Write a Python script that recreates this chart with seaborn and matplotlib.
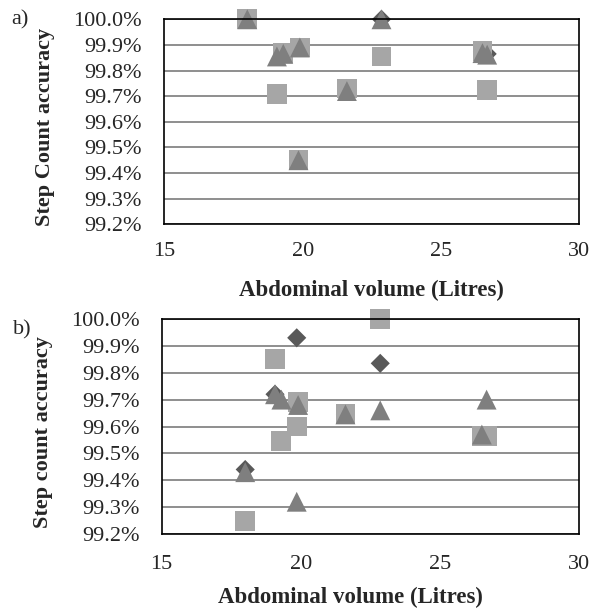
import matplotlib
matplotlib.use("Agg")
import matplotlib.pyplot as plt
import numpy as np
import pandas as pd
import seaborn as sns

# abdominal volume (litres) of each subject
volume = [18.0, 19.07, 19.3, 19.85, 19.9, 21.6, 22.85, 26.5, 26.67]

# a) step count accuracy (%)
a_diamond = [100.0, 99.71, 99.87, 99.45, 99.89, 99.73, 100.0, 99.875, 99.865]
a_square = [100.0, 99.71, 99.87, 99.45, 99.89, 99.73, 99.855, 99.875, 99.725]
a_triangle = [100.0, 99.855, 99.865, 99.45, 99.89, 99.72, 100.0, 99.868, 99.862]

# b) step count accuracy (%)
b_diamond = [99.44, 99.72, 99.545, 99.93, 99.69, 99.645, 99.835, 99.565, 99.565]
b_square = [99.25, 99.85, 99.545, 99.60, 99.69, 99.645, 100.0, 99.565, 99.565]
b_triangle = [99.43, 99.72, 99.70, 99.32, 99.68, 99.645, 99.66, 99.57, 99.70]

y_ticks = [99.2, 99.3, 99.4, 99.5, 99.6, 99.7, 99.8, 99.9, 100.0]
x_ticks = [15, 20, 25, 30]

sns.set_style("white")
plt.rcParams['font.family'] = ['Liberation Serif', 'DejaVu Serif']

markers = {"diamond": "D", "square": "s", "triangle": "^"}
palette = {"diamond": "#595959", "square": "#a6a6a6", "triangle": "#7f7f7f"}
sizes = {"diamond": 95, "square": 205, "triangle": 205}

FS = 16


def make_df(d, s, t):
    # order matters: diamonds drawn first, triangles on top
    rows = []
    for name, vals in (("diamond", d), ("square", s), ("triangle", t)):
        for x, y in zip(volume, vals):
            rows.append({"volume": x, "accuracy": y, "series": name})
    return pd.DataFrame(rows)


def draw_panel(ax, df, ylabel, xl_pos, yl_pos, xpad):
    sns.scatterplot(data=df, x="volume", y="accuracy", hue="series", style="series",
                    size="series", markers=markers, palette=palette, sizes=sizes,
                    linewidth=0, alpha=1, legend=False, ax=ax, clip_on=False)
    ax.set_xlim(15, 30)
    ax.set_ylim(99.2, 100.0)
    ax.set_xticks(x_ticks)
    ax.set_yticks(y_ticks)
    ax.set_yticklabels([f"{v:.1f}%" for v in y_ticks])
    ax.yaxis.grid(True, color="#868686", linewidth=1.3)
    ax.set_axisbelow(True)
    for sp in ax.spines.values():
        sp.set_color("black")
        sp.set_linewidth(1.2)
    ax.tick_params(axis="y", length=0, pad=16, labelsize=FS)
    ax.tick_params(axis="x", direction="in", length=4.5, width=1.2, pad=xpad, labelsize=FS)
    ax.set_xlabel("Abdominal volume (Litres)", fontsize=FS + 0.5, fontweight="bold")
    ax.set_ylabel(ylabel, fontsize=FS, fontweight="bold")
    ax.xaxis.set_label_coords(*xl_pos)
    ax.yaxis.set_label_coords(*yl_pos)
    ax.xaxis.label.set_va("center")
    ax.yaxis.label.set_va("center")


W, H = 595, 608
fig = plt.figure(figsize=(W / 100, H / 100), dpi=100)

ax_a = fig.add_axes([164.3 / W, (H - 224.3) / H, 415 / W, 205 / H])
ax_b = fig.add_axes([161.7 / W, (H - 534) / H, 417.6 / W, 215 / H])

draw_panel(ax_a, make_df(a_diamond, a_square, a_triangle), "Step Count accuracy",
           (0.5, -0.3205), (-0.2875, 0.476), 13)
draw_panel(ax_b, make_df(b_diamond, b_square, b_triangle), "Step count accuracy",
           (0.451, -0.294), (-0.2835, 0.476), 15)

fig.text(20 / W, 1 - 20 / H, "a)", fontsize=FS, ha="center", va="center")
fig.text(22.5 / W, 1 - 330 / H, "b)", fontsize=FS, ha="center", va="center")

fig.savefig("out.png", dpi=100)
